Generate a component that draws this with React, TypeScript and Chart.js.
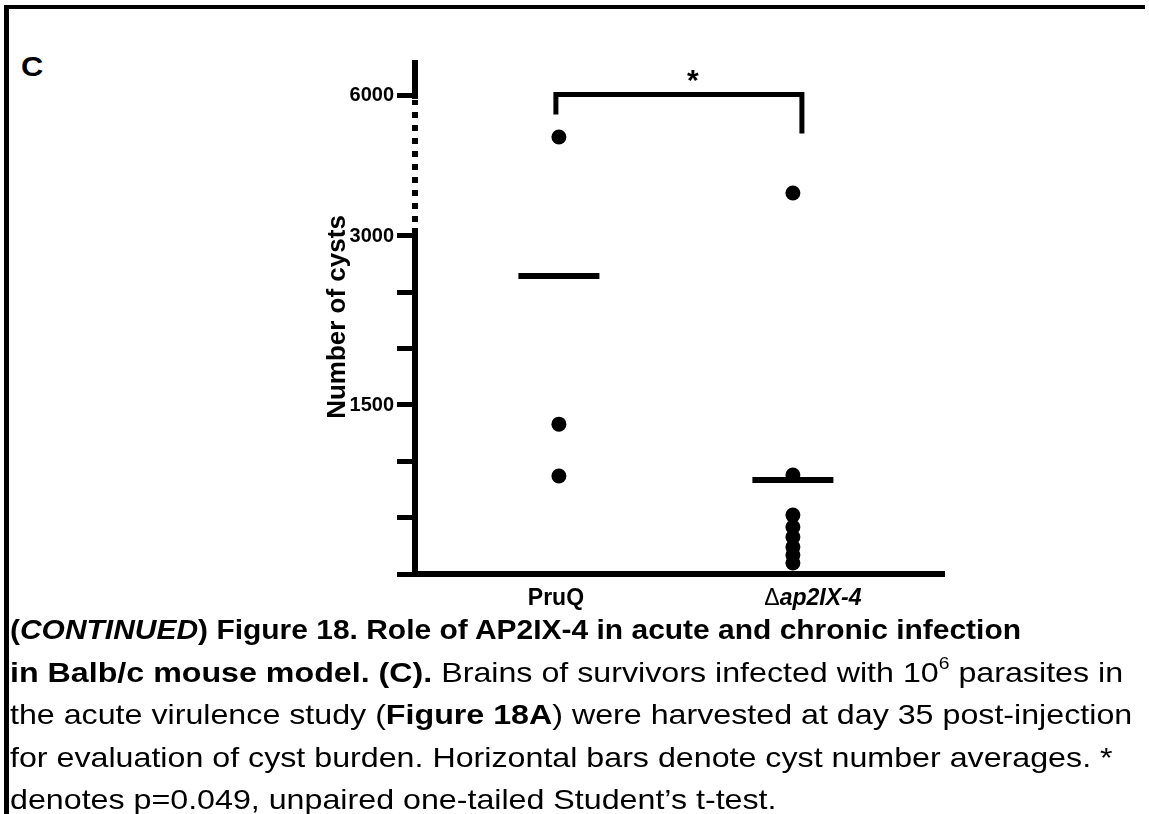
import React, { useEffect, useRef } from 'react';
import { Chart, LinearScale, registerables } from 'chart.js';

// ---- data ----
const GROUPS = ['PruQ', 'Δap2IX-4'];
const PRUQ_CYSTS = [5120, 1330, 870];
const AP2IX4_CYSTS = [3920, 878, 523, 417, 328, 240, 169, 98];
const GROUP_MEANS = [2644, 834];
const Y_TICK_VALUES = [0, 500, 1000, 1500, 2000, 2500, 3000, 6000];
const Y_TICK_LABELS = ['', '', '', '1500', '', '', '3000', '6000'];
const Y_BREAK_VALUE = 3000;
const Y_MAX = 6770;
const Y_TITLE = 'Number of cysts';
const SIGNIFICANCE = '*';

const FONT = "'Liberation Sans', Arial, Helvetica, sans-serif";

// piecewise linear scale (broken axis: 0-3000 expanded, 3000-max compressed)
class BrokenLinearScale extends LinearScale {
  static id = 'brokenLinear';
  decimalFor(v: number) {
    const o: any = this.options;
    const b = o.breakValue;
    const f = o.breakFraction;
    if (v <= b) return ((v - this.min) / (b - this.min)) * f;
    return f + ((v - b) / (this.max - b)) * (1 - f);
  }
  getPixelForValue(v: any) {
    if (v === null || v === undefined || isNaN(+v)) return NaN;
    return this.getPixelForDecimal(this.decimalFor(+v));
  }
  getValueForPixel(p: number) {
    const o: any = this.options;
    const b = o.breakValue;
    const f = o.breakFraction;
    const d = this.getDecimalForPixel(p);
    if (d <= f) return this.min + (d / f) * (b - this.min);
    return b + ((d - f) / (1 - f)) * (this.max - b);
  }
}

Chart.register(...registerables, BrokenLinearScale);

const LABEL_OFFSETS = [-3, 20];

const figurePlugin = {
  id: 'figureDecor',
  afterDatasetsDraw(chart: any) {
    const { ctx, chartArea, scales } = chart;
    const xs = scales.x;
    const ys = scales.y;
    const ax = chartArea.left;
    const y0 = ys.getPixelForValue(0);
    const yb = ys.getPixelForValue(Y_BREAK_VALUE);
    const yt = ys.getPixelForValue(Y_TICK_VALUES[Y_TICK_VALUES.length - 1]);
    const seg = (x1: number, y1: number, x2: number, y2: number) => {
      ctx.beginPath();
      ctx.moveTo(x1, y1);
      ctx.lineTo(x2, y2);
      ctx.stroke();
    };
    ctx.save();
    ctx.strokeStyle = '#000';
    ctx.fillStyle = '#000';
    ctx.lineCap = 'butt';
    ctx.lineWidth = 6;
    // y axis: solid lower part
    seg(ax, y0 + 3, ax, yb - 8);
    // dotted break section
    ctx.setLineDash([6, 7]);
    seg(ax, yb - 14, ax, yt + 4);
    ctx.setLineDash([]);
    // solid top part
    seg(ax, yt + 3, ax, chartArea.top);
    // x axis
    seg(ax - 3, y0, chartArea.right, y0);

    // significance bracket
    const lx = xs.getPixelForValue(1) - 3;
    const rx = xs.getPixelForValue(2) + 9;
    const top = yt - 1.5;
    ctx.lineWidth = 5;
    ctx.lineJoin = 'miter';
    ctx.beginPath();
    ctx.moveTo(lx, top + 20);
    ctx.lineTo(lx, top);
    ctx.lineTo(rx, top);
    ctx.lineTo(rx, top + 39);
    ctx.stroke();
    ctx.font = `bold 30px ${FONT}`;
    ctx.textAlign = 'center';
    ctx.textBaseline = 'alphabetic';
    ctx.fillText(SIGNIFICANCE, (lx + rx) / 2 + 14, top - 4);

    // category labels
    const ly = y0 + 31;
    ctx.textAlign = 'left';
    GROUPS.forEach((g, i) => {
      const cx = xs.getPixelForValue(i + 1) + LABEL_OFFSETS[i];
      if (g.startsWith('Δ')) {
        const head = 'Δ';
        const tail = g.slice(1);
        ctx.font = `23px ${FONT}`;
        const w1 = ctx.measureText(head).width;
        ctx.font = `italic bold 23px ${FONT}`;
        const w2 = ctx.measureText(tail).width;
        const x0 = cx - (w1 + w2) / 2;
        ctx.font = `23px ${FONT}`;
        ctx.fillText(head, x0, ly);
        ctx.font = `italic bold 23px ${FONT}`;
        ctx.fillText(tail, x0 + w1, ly);
      } else {
        ctx.font = `bold 23px ${FONT}`;
        const w = ctx.measureText(g).width;
        ctx.fillText(g, cx - w / 2, ly);
      }
    });
    ctx.restore();
  },
};

export default function App() {
  const canvasRef = useRef<HTMLCanvasElement>(null);

  useEffect(() => {
    const points = [
      ...PRUQ_CYSTS.map((v) => ({ x: 1, y: v })),
      ...AP2IX4_CYSTS.map((v) => ({ x: 2, y: v })),
    ];
    const means = GROUP_MEANS.map((v, i) => ({ x: i + 1, y: v }));
    const chart = new Chart(canvasRef.current as HTMLCanvasElement, {
      type: 'scatter',
      data: {
        datasets: [
          {
            label: 'Mean',
            data: means,
            pointStyle: 'line',
            pointRadius: 40.5,
            borderColor: '#000',
            borderWidth: 6,
            backgroundColor: '#000',
          } as any,
          {
            label: 'Cysts',
            data: points,
            pointStyle: 'circle',
            pointRadius: 7.5,
            backgroundColor: '#000',
            borderColor: '#000',
            borderWidth: 0,
          },
        ],
      },
      options: {
        animation: false,
        responsive: false,
        events: [],
        layout: { autoPadding: false, padding: { top: 20, right: 55, left: 0, bottom: 0 } },
        plugins: {
          legend: { display: false },
          tooltip: { enabled: false },
        },
        scales: {
          x: {
            type: 'linear',
            min: 0.385,
            max: 2.65,
            grid: { display: false },
            border: { display: false },
            ticks: { display: false },
            afterFit: (s: any) => {
              s.height = 41;
            },
          },
          y: {
            type: 'brokenLinear' as any,
            min: 0,
            max: Y_MAX,
            breakValue: Y_BREAK_VALUE,
            breakFraction: 0.6576,
            afterBuildTicks: (s: any) => {
              s.ticks = Y_TICK_VALUES.map((v) => ({ value: v }));
            },
            grid: {
              drawOnChartArea: false,
              drawTicks: true,
              tickLength: 18,
              lineWidth: 5,
              color: '#000',
            },
            border: { display: false },
            ticks: {
              autoSkip: false,
              padding: 3,
              color: '#000',
              font: { family: FONT, size: 20, weight: 'bold' },
              callback: (_v: any, i: number) => Y_TICK_LABELS[i],
            },
            title: {
              display: true,
              text: Y_TITLE,
              color: '#000',
              font: { family: FONT, size: 26, weight: 'bold' },
              padding: { top: 22, bottom: 0 },
            },
            afterFit: (s: any) => {
              s.width = 115;
            },
          } as any,
        },
      },
      plugins: [figurePlugin],
    });
    return () => chart.destroy();
  }, []);

  const lineStyle: React.CSSProperties = {
    whiteSpace: 'nowrap',
    transform: 'scaleX(1.15)',
    transformOrigin: 'left center',
    height: '42.5px',
  };
  const firstLine: React.CSSProperties = { ...lineStyle, transform: 'scaleX(1.07)' };
  const sup: React.CSSProperties = { fontSize: '0.6em', position: 'relative', top: '-0.75em' };

  return (
    <div
      style={{
        position: 'fixed',
        left: 0,
        top: 0,
        width: 1149,
        height: 814,
        background: '#fff',
        overflow: 'hidden',
        fontFamily: FONT,
        color: '#000',
      }}
    >
      <div
        style={{
          position: 'absolute',
          left: 4,
          top: 5,
          width: 1141,
          height: 820,
          boxSizing: 'border-box',
          borderTop: '4px solid #000',
          borderLeft: '5px solid #000',
        }}
      />
      <div
        style={{
          position: 'absolute',
          left: 21,
          top: 53,
          fontSize: 28,
          lineHeight: 1,
          fontWeight: 'bold',
          transform: 'scaleX(1.1)',
          transformOrigin: 'left center',
        }}
      >
        C
      </div>
      <div style={{ position: 'absolute', left: 300, top: 40, width: 700, height: 575 }}>
        <canvas ref={canvasRef} width={700} height={575} style={{ width: 700, height: 575, display: 'block' }} />
      </div>
      <div
        style={{
          position: 'absolute',
          left: 10,
          top: 609,
          fontSize: 28,
          lineHeight: '42.5px',
        }}
      >
        <div style={firstLine}>
          <b>
            (<i>CONTINUED</i>) Figure 18. Role of AP2IX-4 in acute and chronic infection
          </b>
        </div>
        <div style={lineStyle}>
          <b>in Balb/c mouse model. (C).</b> Brains of survivors infected with 10<span style={sup}>6</span> parasites in
        </div>
        <div style={lineStyle}>
          the acute virulence study (<b>Figure 18A</b>) were harvested at day 35 post-injection
        </div>
        <div style={lineStyle}>for evaluation of cyst burden. Horizontal bars denote cyst number averages. *</div>
        <div style={lineStyle}>denotes p=0.049, unpaired one-tailed Student’s t-test.</div>
      </div>
    </div>
  );
}
